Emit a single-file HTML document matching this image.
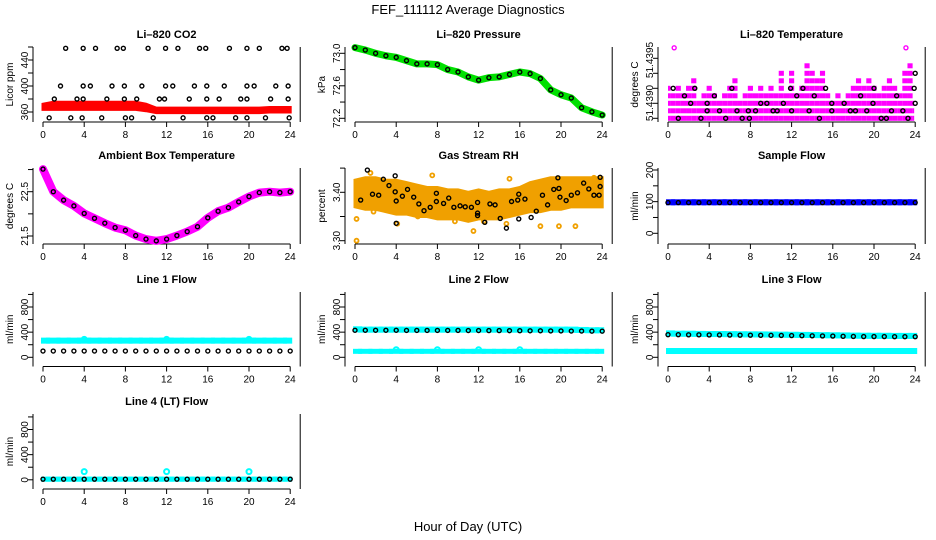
<!DOCTYPE html>
<html><head><meta charset="utf-8"><style>
html,body{margin:0;padding:0;background:#fff;}
svg{display:block;font-family:"Liberation Sans",sans-serif;}
</style></head><body>
<svg id="chart" width="936" height="540" viewBox="0 0 936 540">
<text x="468" y="14" text-anchor="middle" font-size="13">FEF_111112  Average Diagnostics</text>
<text x="468" y="531" text-anchor="middle" font-size="13">Hour of Day (UTC)</text>
</svg>
<script>
const hours=[0,1,2,3,4,5,6,7,8,9,10,11,12,13,14,15,16,17,18,19,20,21,22,23,24];
const xTickLabels=["0","4","8","12","16","20","24"];
// CO2
const co2Hi=[372,375,375,375,375,375,375,375,375,375,372,366,366,366,366,366,366,366,366,366,366,366,367,367,367];
const co2Lo=[364,364,364,364,364,364,364,364,364,364,362,359,359,359,359,359,359,359,359,359,359,359,360,360,360];
const co2TopH=[2.2,3.9,5.1,7.2,7.8,10.2,11.9,13.1,15.2,15.8,18.1,19.8,21.0,23.2,23.7];
const co2R400H=[1.7,3.9,4.6,6.7,7.9,9.6,11.9,12.6,14.7,15.9,17.6,19.8,20.5,22.6,23.8];
const co2R380H=[1.1,3.3,3.9,6.2,7.9,9.1,11.3,11.8,14.2,15.9,17.1,19.2,19.8,22.1,23.8];
const co2R350H=[0.6,2.7,3.8,5.7,8.0,8.6,10.7,13.6,15.9,16.5,18.7,19.8,21.6,23.9];
const co2Ticks=[360,380,400,420,440,460];
const co2TickLabels=["360","","400","","440",""];
// Pressure
const pressure=[73.07,73.04,73.0,72.97,72.95,72.91,72.87,72.87,72.86,72.80,72.77,72.71,72.67,72.70,72.71,72.74,72.77,72.75,72.69,72.55,72.49,72.45,72.33,72.28,72.24];
const presTicks=[72.2,72.4,72.6,72.8,73.0];
const presTickLabels=["72.2","","72.6","","73.0"];
// Li-820 temperature (discrete levels)
const tempMaxLevel=[5,3,5,3,4,5,3,3,4,4,3,3,4,5,3,3,4,4,4,3,4,4,6,4,6,4,5,7,6,6,7,4,3,3,3,3,4,5,4,6,4,3,4,5,4,4,7,7,3];
const tempBlack=[[0.5,4],[1.0,0],[1.6,3],[2.2,2],[2.6,4],[3.2,0],[3.8,2],[3.8,1],[4.5,3],[5.0,1],[5.6,0],[6.2,4],[6.7,1],[7.2,0],[7.9,0],[7.8,1],[8.5,1],[9.0,2],[9.6,2],[10.2,1],[10.6,1],[11.2,2],[11.9,4],[12.0,1],[12.5,3],[13.1,4],[13.7,1],[14.2,3],[14.7,0],[15.3,4],[15.9,2],[15.9,1],[17.1,2],[17.7,1],[18.2,1],[18.7,3],[19.3,1],[19.9,2],[20.0,4],[20.7,0],[21.2,0],[21.7,1],[22.2,3],[22.8,1],[23.3,0],[23.9,4],[24.0,6],[24.0,2]];
const tempOutliers=[[0.6,9.4],[23.1,9.4]];
const tempTicks=[0,2,4,6,8];
// Ambient
const ambient=[23.01,22.50,22.31,22.18,22.01,21.90,21.79,21.69,21.63,21.51,21.43,21.39,21.43,21.51,21.60,21.71,21.91,22.06,22.14,22.27,22.39,22.48,22.50,22.48,22.50];
const ambTicks=[21.5,22.0,22.5,23.0];
const ambTickLabels=["21.5","","22.5",""];
// RH
const rhHi=[3.425,3.43,3.43,3.425,3.425,3.42,3.415,3.41,3.41,3.405,3.405,3.40,3.405,3.40,3.405,3.405,3.41,3.42,3.425,3.43,3.43,3.43,3.43,3.43,3.43];
const rhLo=[3.37,3.365,3.365,3.36,3.355,3.355,3.35,3.35,3.345,3.345,3.345,3.34,3.345,3.345,3.345,3.35,3.355,3.36,3.36,3.365,3.365,3.37,3.37,3.37,3.37];
const rhBlack=[[0.55,3.384],[1.2,3.446],[1.7,3.396],[2.3,3.394],[2.75,3.427],[3.3,3.414],[3.9,3.434],[3.9,3.401],[4.0,3.382],[4.0,3.336],[4.6,3.392],[5.1,3.406],[5.7,3.390],[6.2,3.376],[6.7,3.362],[7.3,3.369],[7.9,3.398],[7.9,3.381],[8.6,3.377],[9.1,3.388],[9.6,3.369],[10.2,3.372],[10.7,3.370],[11.3,3.369],[11.9,3.379],[11.9,3.357],[11.9,3.352],[12.6,3.338],[13.1,3.376],[13.6,3.374],[14.1,3.346],[14.7,3.326],[15.2,3.381],[15.8,3.384],[15.9,3.396],[15.9,3.345],[16.5,3.386],[17.1,3.348],[17.6,3.361],[18.2,3.394],[18.7,3.374],[19.3,3.406],[19.7,3.430],[19.8,3.408],[19.9,3.390],[20.5,3.383],[21.0,3.394],[21.6,3.399],[22.2,3.419],[22.7,3.407],[23.2,3.394],[23.7,3.394],[23.8,3.431],[23.8,3.412]];
const rhOutliers=[[0.15,3.30],[0.15,3.345],[1.8,3.36],[4.1,3.335],[6.1,3.35],[9.7,3.34],[11.5,3.32],[12.5,3.34],[14.7,3.335],[18.0,3.33],[19.8,3.33],[21.4,3.33],[1.5,3.44],[7.5,3.435],[15.0,3.428],[23.2,3.43]];
const rhTicks=[3.30,3.35,3.40,3.45];
const rhTickLabels=["3.30","","3.40",""];
// Sample flow
const sampleBlue=[98,98,98,98,98,98,98,98,98,98,98,98,98,98,98,98,98,98,98,98,98,98,98,98,98];
const sampleBlack=[97,97,97,97,97,97,97,97,97,97,97,97,97,97,97,97,97,97,97,97,97,97,97,97,97];
const sampleTicks=[0,50,100,150,200];
const sampleTickLabels=["0","","100","","200"];
// Line flows
const line1Cyan=[265,265,265,265,285,265,265,265,265,265,265,265,285,265,265,265,265,265,265,265,285,265,265,265,265];
const line1Black=[100,100,100,100,100,100,100,100,100,100,100,100,100,100,100,100,100,100,100,100,100,100,100,100,100];
const line2Cyan=[445,440,440,440,440,440,440,440,440,440,440,440,440,440,440,440,440,440,440,440,440,440,435,430,430];
const line2CyanLow=[95,95,95,95,120,95,95,95,120,95,95,95,120,95,95,95,120,95,95,95,95,95,95,95,95];
const line2Black=[430,430,430,430,430,428,428,428,428,428,428,426,426,425,425,424,423,422,422,420,420,418,418,416,416];
const line3Cyan=[380,375,375,372,370,370,368,366,365,364,362,360,358,356,355,352,350,348,345,343,342,342,340,340,340];
const line3CyanLow=[100,100,100,100,100,100,100,100,100,100,100,100,100,100,100,100,100,100,100,100,100,100,100,100,100];
const line3Black=[360,360,358,358,356,355,354,352,352,350,349,348,346,344,342,340,338,334,332,330,330,330,328,328,328];
const line4Cyan=[10,10,10,10,130,10,10,10,10,10,10,10,130,10,10,10,10,10,10,10,130,10,10,10,10];
const line4Black=[10,10,10,10,10,10,10,10,10,10,10,10,10,10,10,10,10,10,10,10,10,10,10,10,10];
const flowTicks=[0,200,400,600,800,1000];
const flowTickLabels=["0","","400","","800",""];

const NS="http://www.w3.org/2000/svg";
const svg=document.getElementById('chart');
const X0=[43,355,668], HX=10.3;
const TOP=[47,168,292,414], BOT=[122,244,366.5,489];
function mk(tag,attrs,parent){const e=document.createElementNS(NS,tag);for(const k in attrs)e.setAttribute(k,attrs[k]);(parent||svg).appendChild(e);return e;}
function lin(v0,y0,v1,y1){return v=>y0+(v-v0)*(y1-y0)/(v1-v0);}

function frame(col,row,title,ylab,ticks,labels,ys,name){
  const g=mk('g',{});
  
  
  const ax=X0[col]-10, rx=X0[col]+24*HX+10, t=TOP[row], b=BOT[row];
  const tt=mk('text',{x:(ax+rx)/2,y:t-9,'text-anchor':'middle','font-size':11,'font-weight':'bold'},g);tt.textContent=title;
  
  
  const yl=mk('text',{x:0,y:0,'text-anchor':'middle','font-size':10,transform:`translate(${ax-20},${(t+b)/2}) rotate(-90)`},g);yl.textContent=ylab;
  
  
  mk('line',{x1:ax,y1:t,x2:ax,y2:b,stroke:'#000','stroke-width':1},g);
  mk('line',{x1:rx,y1:t,x2:rx,y2:b,stroke:'#000','stroke-width':1},g);
  mk('line',{x1:X0[col],y1:b,x2:X0[col]+24*HX,y2:b,stroke:'#000','stroke-width':1},g);
  ticks.forEach((v,i)=>{const y=ys(v);mk('line',{x1:ax-5,y1:y,x2:ax,y2:y,stroke:'#000'},g);
    if(labels&&labels[i]){const l=mk('text',{'text-anchor':'middle','font-size':10,transform:`translate(${ax-5},${y}) rotate(-90)`},g);l.textContent=labels[i];}});
  xTickLabels.forEach((s,i)=>{const x=X0[col]+i*4*HX;mk('line',{x1:x,y1:b,x2:x,y2:b+5,stroke:'#000'},g);
    const l=mk('text',{x:x,y:b+16,'text-anchor':'middle','font-size':10},g);l.textContent=s;});
  return g;
}
const sx=(col,h)=>X0[col]+h*HX;
function circ(g,x,y,color,r,w){mk('circle',{cx:x,cy:y,r:r||2,fill:'none',stroke:color||'#000','stroke-width':w||1.4},g);}
function band(g,col,ys,lo,hi,color){let p=hours.map((h,i)=>sx(col,h)+','+ys(hi[i]));p=p.concat(hours.slice().reverse().map((h,j)=>{const i=hours.length-1-j;return sx(col,h)+','+ys(lo[i]);}));mk('polygon',{points:p.join(' '),fill:color,stroke:color,'stroke-width':3},g);}
function thick(g,col,ys,vals,color,w){mk('polyline',{points:hours.map((h,i)=>sx(col,h)+','+ys(vals[i])).join(' '),fill:'none',stroke:color,'stroke-width':w,'stroke-linecap':'round','stroke-linejoin':'round'},g);}
function steps(g,col,ys,vals,color,hgt){hours.forEach((h,i)=>{const x1=sx(col,Math.max(0,h-0.5)),x2=sx(col,Math.min(24,h+0.5));
  const pv=i>0?vals[i-1]:vals[i+1], nv=i<vals.length-1?vals[i+1]:vals[i-1];
  let v=vals[i];
  if(Math.abs(v-pv)>10&&Math.abs(v-nv)>10){circ(g,sx(col,h),ys(v),color,2.5,2);v=pv;}
  mk('rect',{x:x1-2,y:ys(v)-hgt/2,width:x2-x1+4,height:hgt,fill:color},g);});}
function dots(g,col,ys,vals,color){hours.forEach((h,i)=>circ(g,sx(col,h),ys(vals[i]),color));}

// CO2
{const ys=lin(360,112,400,86);const g=frame(0,0,'Li\u2013820 CO2','Licor ppm',co2Ticks,co2TickLabels,ys,'co2');
 band(g,0,ys,co2Lo,co2Hi,'#ff0000');
 co2TopH.forEach(h=>circ(g,sx(0,h),ys(458)));co2R400H.forEach(h=>circ(g,sx(0,h),ys(400)));
 co2R380H.forEach(h=>circ(g,sx(0,h),ys(380)));co2R350H.forEach(h=>circ(g,sx(0,h),ys(351)));}
// Pressure
{const ys=lin(72.2,118.3,73.0,53.3);const g=frame(1,0,'Li\u2013820 Pressure','kPa',presTicks,presTickLabels,ys,'pressure');
 thick(g,1,ys,pressure,'#00e000',7);dots(g,1,ys,pressure,'#000');}
// Temperature
{const ys=lin(0,118.3,8,58.3);const g=frame(2,0,'Li\u2013820 Temperature','degrees C',tempTicks,null,ys,'li820-temperature');
 [["51.4390",103],["51.4395",60]].forEach(([s,y])=>{const l=mk('text',{'text-anchor':'middle','font-size':10,transform:`translate(${X0[2]-15},${y}) rotate(-90)`},g);l.textContent=s;});
 tempMaxLevel.forEach((m,i)=>{const h=i*0.5;const x1=sx(2,Math.max(0,h-0.25)),x2=sx(2,Math.min(23.9,h+0.25));for(let L=0;L<=m;L++){if(L>=3&&(i+L)%2===1&&L===m)continue;mk('rect',{x:x1,y:ys(L)-2.5,width:Math.max(0,x2-x1),height:5,fill:'#ff00ff'},g);}});
 tempOutliers.forEach(p=>circ(g,sx(2,p[0]),ys(p[1]),'#ff00ff'));
 tempBlack.forEach(p=>circ(g,sx(2,p[0]),ys(p[1]),'#000'));}
// Ambient
{const ys=lin(21.5,236,22.5,191.7);const g=frame(0,1,'Ambient Box Temperature','degrees C',ambTicks,ambTickLabels,ys,'ambient-temperature');
 thick(g,0,ys,ambient,'#ff00ff',8);dots(g,0,ys,ambient,'#000');}
// RH
{const ys=lin(3.30,240.7,3.40,192.3);const g=frame(1,1,'Gas Stream RH','percent',rhTicks,rhTickLabels,ys,'gas-stream-rh');
 band(g,1,ys,rhLo,rhHi,'#f0a000');
 rhOutliers.forEach(p=>circ(g,sx(1,p[0]),ys(p[1]),'#f0a000',2,1.8));
 rhBlack.forEach(p=>circ(g,sx(1,p[0]),ys(p[1]),'#000'));}
// Sample flow
{const ys=lin(0,233.3,200,170);const g=frame(2,1,'Sample Flow','ml/min',sampleTicks,sampleTickLabels,ys,'sample-flow');
 steps(g,2,ys,sampleBlue,'#0000ff',6);dots(g,2,ys,sampleBlack,'#000');}
// Line flows
const fy=r=>lin(0,357.3+(BOT[r]-366.5),800,307+(BOT[r]-366.5));
{const ys=fy(2);const g=frame(0,2,'Line 1 Flow','ml/min',flowTicks,flowTickLabels,ys,'line1-flow');
 steps(g,0,ys,line1Cyan,'#00ffff',6);dots(g,0,ys,line1Black,'#000');}
{const ys=fy(2);const g=frame(1,2,'Line 2 Flow','ml/min',flowTicks,flowTickLabels,ys,'line2-flow');
 steps(g,1,ys,line2Cyan,'#00ffff',6);steps(g,1,ys,line2CyanLow,'#00ffff',5);dots(g,1,ys,line2Black,'#000');}
{const ys=fy(2);const g=frame(2,2,'Line 3 Flow','ml/min',flowTicks,flowTickLabels,ys,'line3-flow');
 steps(g,2,ys,line3Cyan,'#00ffff',6);steps(g,2,ys,line3CyanLow,'#00ffff',6);dots(g,2,ys,line3Black,'#000');}
{const ys=fy(3);const g=frame(0,3,'Line 4 (LT) Flow','ml/min',flowTicks,flowTickLabels,ys,'line4-flow');
 steps(g,0,ys,line4Cyan,'#00ffff',5);dots(g,0,ys,line4Black,'#000');}
</script>
</body></html>
